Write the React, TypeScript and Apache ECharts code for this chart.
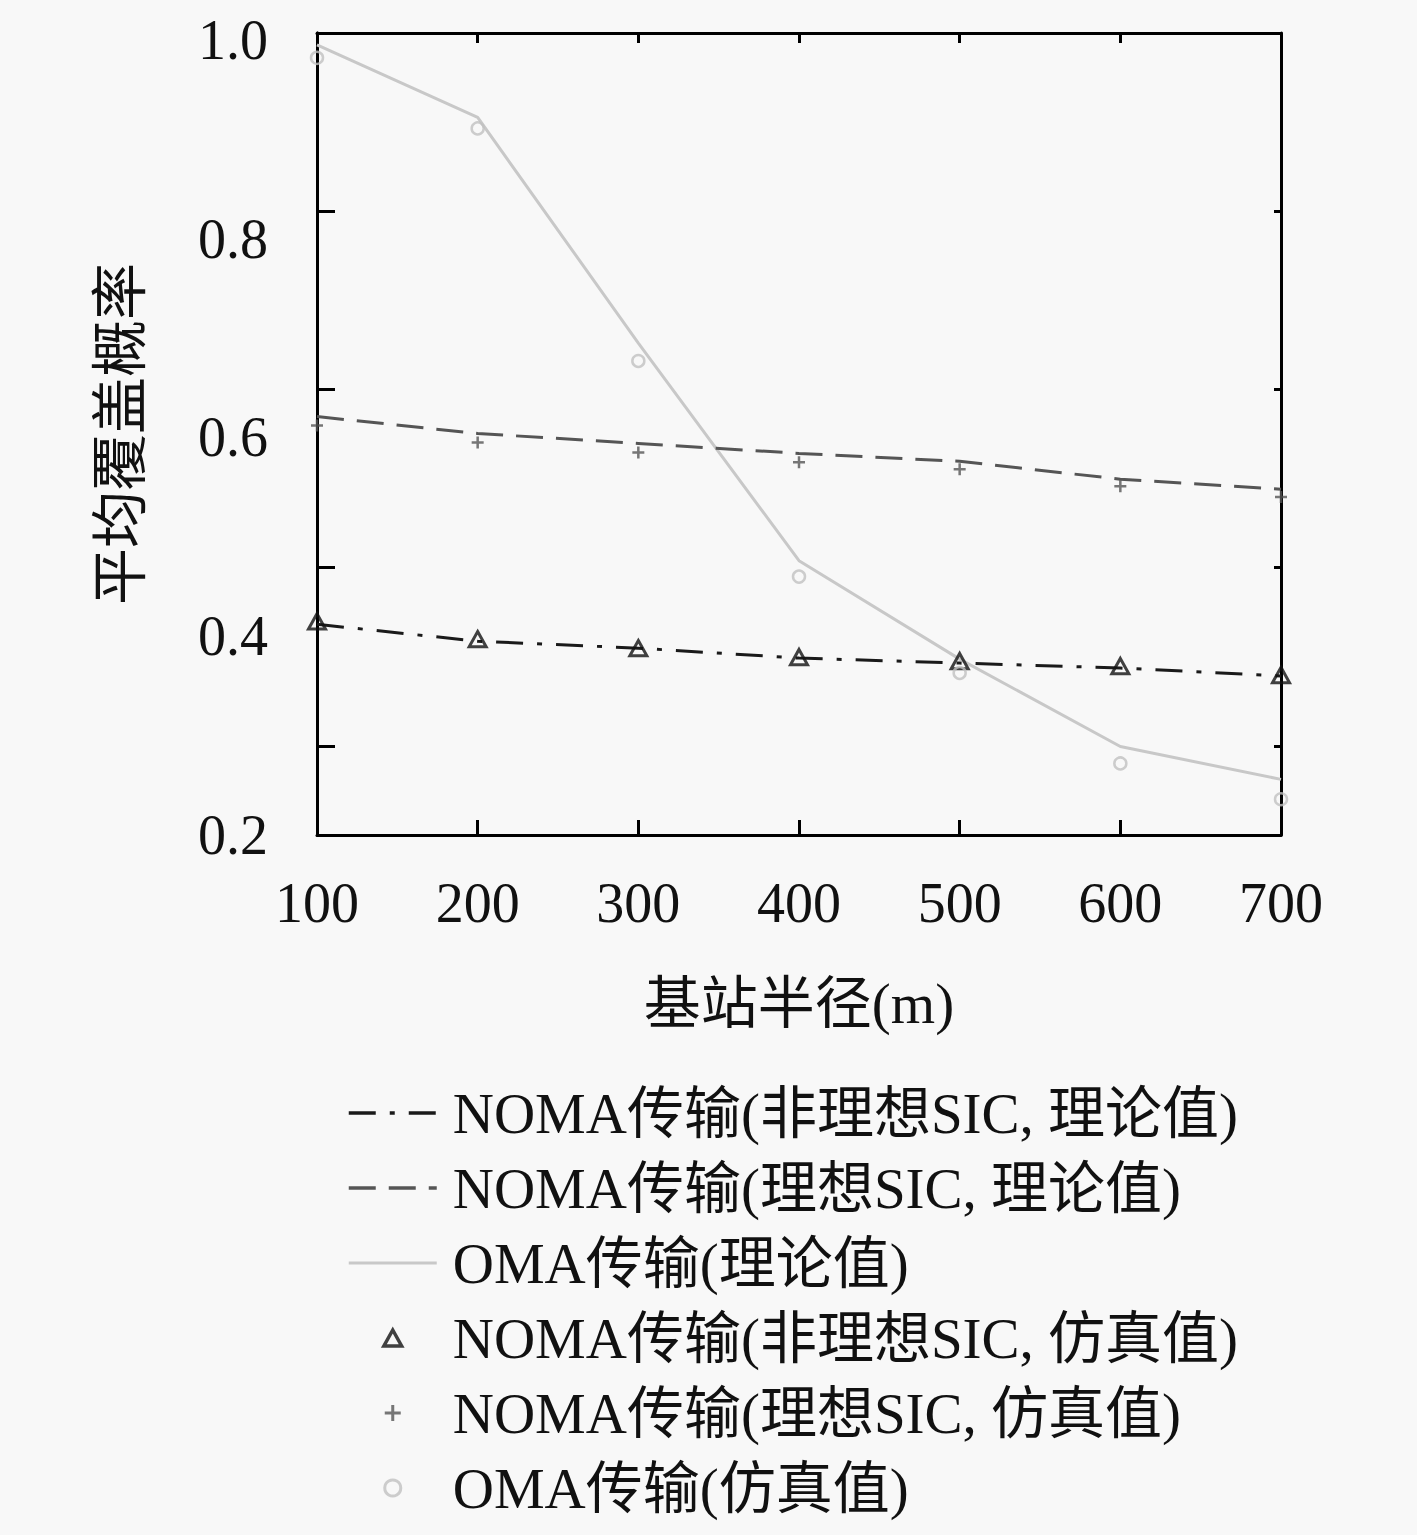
import React, { useEffect, useRef } from "react";
import * as echarts from "echarts";

const radii = [100, 200, 300, 400, 500, 600, 700];
const nonIdealTheory = [0.412, 0.395, 0.388, 0.378, 0.373, 0.368, 0.36];
const idealTheory = [0.621, 0.604, 0.594, 0.584, 0.576, 0.558, 0.548];
const omaTheory = [0.995, 0.922, 0.695, 0.476, 0.377, 0.289, 0.256];
const nonIdealSim = [0.415, 0.397, 0.388, 0.379, 0.375, 0.37, 0.361];
const idealSim = [0.612, 0.595, 0.585, 0.575, 0.568, 0.551, 0.54];
const omaSim = [0.982, 0.911, 0.677, 0.46, 0.363, 0.272, 0.236];
const yTicks = [0.2, 0.4, 0.6, 0.8, 1.0];

const names = [
  "NOMA传输(非理想SIC, 理论值)",
  "NOMA传输(理想SIC, 理论值)",
  "OMA传输(理论值)",
  "NOMA传输(非理想SIC, 仿真值)",
  "NOMA传输(理想SIC, 仿真值)",
  "OMA传输(仿真值)",
];

const FONT = "'Liberation Serif', 'DejaVu Serif', 'Noto Sans CJK SC', serif";

const pairs = (ys: number[]) => radii.map((x, i) => [x, ys[i]]);

export default function App() {
  const ref = useRef<HTMLDivElement>(null);
  useEffect(() => {
    if (!ref.current) return;
    const chart = echarts.init(ref.current, null, { renderer: "svg" });
    const frame = { show: true, onZero: false, lineStyle: { color: "#000", width: 3 } };
    const hiddenSymbol = { color: "rgba(0,0,0,0)", borderWidth: 0, borderColor: "rgba(0,0,0,0)" };
    chart.setOption({
      animation: false,
      backgroundColor: "#f8f8f8",
      textStyle: { fontFamily: FONT },
      grid: { left: 317, top: 33, right: 136, bottom: 700 },
      xAxis: [
        {
          type: "value",
          min: 100,
          max: 700,
          interval: 100,
          position: "bottom",
          axisLine: frame,
          axisTick: { inside: true, length: 15, lineStyle: { color: "#000", width: 3 } },
          splitLine: { show: false },
          axisLabel: { fontSize: 56, color: "#111", margin: 40, fontFamily: FONT },
          name: "基站半径(m)",
          nameLocation: "middle",
          nameGap: 140,
          nameTextStyle: { fontSize: 57, color: "#111", fontFamily: FONT },
        },
        {
          type: "value",
          min: 100,
          max: 700,
          interval: 100,
          position: "top",
          axisLine: frame,
          axisTick: { inside: true, length: 10, lineStyle: { color: "#000", width: 3 } },
          splitLine: { show: false },
          axisLabel: { show: false },
        },
      ],
      yAxis: [
        {
          type: "value",
          min: 0.2,
          max: 1.007,
          interval: 0.2,
          position: "left",
          axisLine: frame,
          axisTick: { show: false },
          splitLine: { show: false },
          axisLabel: {
            fontSize: 56,
            color: "#111",
            margin: 49,
            fontFamily: FONT,
            formatter: (v: number) => {
              const t = yTicks.find((k) => Math.abs(k - v) < 1e-6);
              return t === undefined ? "" : t.toFixed(1);
            },
          },
          name: "平均覆盖概率",
          nameLocation: "middle",
          nameGap: 168,
          nameTextStyle: { fontSize: 57, color: "#111", fontFamily: FONT },
        },
        {
          type: "value",
          min: 0,
          max: 4.5,
          interval: 1,
          inverse: true,
          position: "left",
          axisLine: frame,
          axisTick: { inside: true, length: 18, lineStyle: { color: "#000", width: 3 } },
          splitLine: { show: false },
          axisLabel: { show: false },
        },
        {
          type: "value",
          min: 0,
          max: 4.5,
          interval: 1,
          inverse: true,
          position: "right",
          axisLine: frame,
          axisTick: { inside: true, length: 7, lineStyle: { color: "#000", width: 3 } },
          splitLine: { show: false },
          axisLabel: { show: false },
        },
      ],
      legend: {
        orient: "vertical",
        left: 342,
        top: 1079,
        itemWidth: 88,
        itemHeight: 16,
        itemGap: 17,
        data: [
          { name: names[0], itemStyle: hiddenSymbol, lineStyle: { width: 3.5 } },
          { name: names[1], itemStyle: hiddenSymbol, lineStyle: { width: 3.5 } },
          { name: names[2], itemStyle: hiddenSymbol, lineStyle: { width: 3 } },
          { name: names[3], itemStyle: { borderWidth: 3.5, borderColor: "#111", color: "rgba(0,0,0,0)" } },
          { name: names[4], itemStyle: { borderWidth: 3, borderColor: "#555", color: "#555" } },
          { name: names[5], itemStyle: { borderWidth: 3, borderColor: "#c0c0c0", color: "rgba(0,0,0,0)" } },
        ],
        textStyle: {
          fontSize: 57,
          color: "#111",
          fontFamily: FONT,
          lineHeight: 58,
          padding: [0, 0, 0, 11],
        },
      },
      series: [
        {
          name: names[0],
          type: "line",
          data: pairs(nonIdealTheory),
          showSymbol: false,
          symbol: "none",
          lineStyle: { color: "#1a1a1a", width: 3, type: [27, 14, 5, 14] },
          itemStyle: { color: "#1a1a1a" },
          z: 3,
        },
        {
          name: names[1],
          type: "line",
          data: pairs(idealTheory),
          showSymbol: false,
          symbol: "none",
          lineStyle: { color: "#555", width: 3, type: [27, 13] },
          itemStyle: { color: "#555" },
          z: 3,
        },
        {
          name: names[2],
          type: "line",
          data: pairs(omaTheory),
          showSymbol: false,
          symbol: "none",
          lineStyle: { color: "#c8c8c8", width: 3 },
          itemStyle: { color: "#c8c8c8" },
          z: 2,
        },
        {
          name: names[3],
          type: "scatter",
          data: pairs(nonIdealSim),
          symbol: "path://M5,0L10,9L0,9Z",
          symbolSize: 17,
          symbolKeepAspect: true,
          itemStyle: { color: "rgba(0,0,0,0)", borderColor: "#111", borderWidth: 3 },
          z: 4,
        },
        {
          name: names[4],
          type: "scatter",
          data: pairs(idealSim),
          symbol: "path://M5,0L5,10M0,5L10,5",
          symbolSize: 12,
          symbolKeepAspect: true,
          itemStyle: { color: "#555", borderColor: "#555", borderWidth: 2.5 },
          z: 4,
        },
        {
          name: names[5],
          type: "scatter",
          data: pairs(omaSim),
          symbol: "circle",
          symbolSize: 12,
          symbolKeepAspect: true,
          itemStyle: { color: "rgba(0,0,0,0)", borderColor: "#c0c0c0", borderWidth: 2.5 },
          z: 4,
        },
      ],
    });
    return () => chart.dispose();
  }, []);
  return (
    <div
      ref={ref}
      style={{ position: "absolute", left: 0, top: 0, width: 1417, height: 1535, background: "#f8f8f8" }}
    />
  );
}
